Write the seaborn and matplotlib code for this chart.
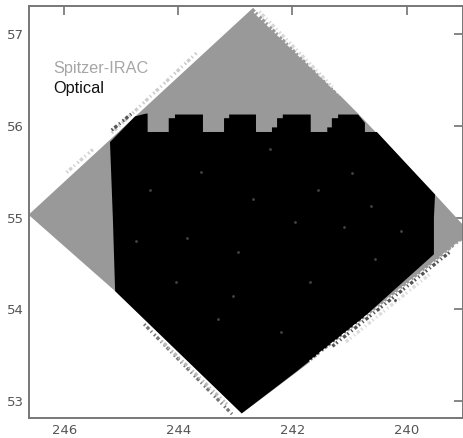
import pandas as pd
import matplotlib
matplotlib.use("Agg")
import matplotlib.pyplot as plt
import seaborn as sns

# footprints, RA / Dec
irac_ra = [246.61, 242.69, 240.85, 239.50, 239.01, 239.01, 241.69, 242.35, 242.89, 245.11, 246.61]
irac_dec = [55.04, 57.28, 56.13, 55.25, 54.92, 54.76, 53.43, 53.12, 52.87, 54.20, 55.02]

optical_ra = [245.20, 244.76, 244.57, 244.54, 244.54, 244.20, 244.17, 244.17, 244.06, 244.06, 243.57, 243.57,
              243.22, 243.20, 243.20, 243.11, 243.11, 242.64, 242.64, 242.36, 242.36, 242.27, 242.27,
              242.17, 242.17, 241.68, 241.68, 241.39, 241.39, 241.31, 241.31, 241.20, 241.20, 240.85,
              240.73, 240.73, 240.52, 239.50, 239.52, 239.52, 240.76, 241.92, 242.89, 245.11, 245.15]
optical_dec = [55.82, 56.10, 56.13, 56.13, 55.93, 55.93, 55.93, 56.08, 56.08, 56.12, 56.12, 55.93,
               55.93, 55.93, 56.08, 56.08, 56.12, 56.12, 55.93, 55.93, 55.98, 55.98, 56.08,
               56.08, 56.12, 56.12, 55.93, 55.93, 55.98, 55.98, 56.08, 56.08, 56.12, 56.12,
               56.03, 55.93, 55.93, 55.25, 55.00, 54.60, 53.91, 53.33, 52.87, 54.20, 55.00]

# frayed survey edges: (ra, dec, colour)
edges = [
    ([242.66, 241.16], [57.24, 56.34], "white"),
    ([242.58, 241.30], [57.24, 56.42], "#d8d8d8"),
    ([245.96, 245.50], [55.49, 55.74], "#d2d2d2"),
    ([245.17, 243.68], [55.92, 56.79], "#cccccc"),
    ([245.17, 244.80], [55.95, 56.14], "#555555"),
    ([239.06, 241.69], [54.73, 53.43], "white"),
    ([239.25, 241.30], [54.62, 53.60], "#555555"),
    ([239.60, 241.10], [54.38, 53.63], "#dddddd"),
    ([244.60, 243.04], [53.84, 52.85], "#777777"),
    ([244.30, 243.15], [53.66, 52.97], "#bbbbbb"),
]

# faint sources on the black area
star_ra = [242.40, 240.62, 243.85, 241.70, 240.20, 244.50, 242.95, 241.10, 243.30, 240.95, 244.05, 242.20,
           241.55, 240.55, 243.60, 244.75, 242.70, 241.95, 240.10, 243.05]
star_dec = [55.74, 55.13, 54.78, 54.30, 54.10, 55.30, 54.62, 54.90, 53.90, 55.48, 54.30, 53.75,
            55.30, 54.55, 55.50, 54.75, 55.20, 54.95, 54.85, 54.15]

x_ticks = [246, 244, 242, 240]
y_ticks = [53, 54, 55, 56, 57]

sns.set_style("white")
plt.rcParams["font.family"] = ["DejaVu Sans"]

fig = plt.figure(figsize=(4.63, 4.38), dpi=100)
ax = fig.add_axes([29 / 463, 20 / 438, 434 / 463, 412 / 438])

fray = (0, (0.5, 0.6, 1, 0.8, 0.4, 1))

ax.fill(irac_ra, irac_dec, color="#999999", lw=0, zorder=1)

for ra, dec, col in edges[:5]:
    sns.lineplot(x=ra, y=dec, ax=ax, color=col, lw=2.4, ls=fray, sort=False, estimator=None, zorder=2)

ax.fill(optical_ra, optical_dec, color="black", lw=0, zorder=3)

for ra, dec, col in edges[5:]:
    sns.lineplot(x=ra, y=dec, ax=ax, color=col, lw=2.4, ls=fray, sort=False, estimator=None, zorder=4)

stars = pd.DataFrame({"ra": star_ra, "dec": star_dec})
sns.scatterplot(data=stars, x="ra", y="dec", ax=ax, color="#444444", s=4, linewidth=0, zorder=5)

ax.set_xlim(246.62, 239.01)
ax.set_ylim(52.82, 57.30)
ax.set_xticks(x_ticks)
ax.set_yticks(y_ticks)
ax.set_xlabel("")
ax.set_ylabel("")
ax.tick_params(axis="both", direction="in", length=6.5, width=1.1, color="#666666",
               labelcolor="#555555", labelsize=9.5, top=True, right=True, pad=4)

for s in ax.spines.values():
    s.set_visible(True)
    s.set_color("#777777")
    s.set_linewidth(1.4)

ax.text(0.055, 0.849, "Spitzer-IRAC", transform=ax.transAxes, color="#a6a6a6", fontsize=11.7,
        va="center", family="Liberation Sans")
ax.text(0.055, 0.800, "Optical", transform=ax.transAxes, color="#111111", fontsize=11.7,
        va="center", family="Liberation Sans")

plt.savefig("out.png", dpi=100)
plt.close()
